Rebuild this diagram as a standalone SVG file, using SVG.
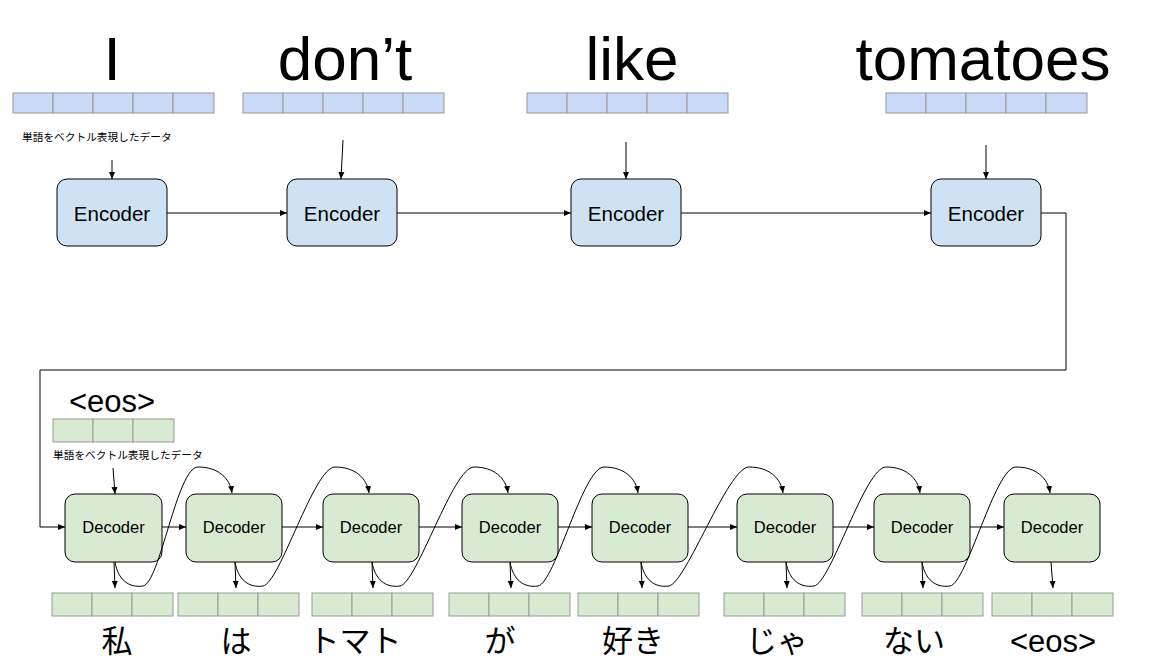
<svg xmlns="http://www.w3.org/2000/svg" width="1155" height="661" viewBox="0 0 1155 661">
<style>
.big{font-family:"Liberation Sans",Arial,sans-serif;font-size:62px;fill:#000;text-anchor:middle}
.jp{font-family:"Liberation Sans","Noto Sans CJK JP",sans-serif;font-size:31px;fill:#000;text-anchor:middle}
.lbl{font-family:"Noto Sans CJK JP",sans-serif;font-size:10.7px;fill:#000}
.enc rect{fill:#cfe2f3;stroke:#000;stroke-width:1}
.dec rect{fill:#d9ead3;stroke:#000;stroke-width:1}
.enc text{font-family:"Liberation Sans",Arial,sans-serif;font-size:20.5px;fill:#000;text-anchor:middle}
.dec text{font-family:"Liberation Sans",Arial,sans-serif;font-size:16.5px;fill:#000;text-anchor:middle}
.vb{fill:#c9daf8;stroke:#999;stroke-width:1}
.vg{fill:#d9ead3;stroke:#999;stroke-width:1}
.conn path,.conn line{fill:none;stroke:#000;stroke-width:1;marker-end:url(#ah)}
</style>
<defs>
<marker id="ah" markerUnits="userSpaceOnUse" markerWidth="8" markerHeight="8" viewBox="0 0 8 8" refX="7" refY="4" orient="auto">
<path d="M0,1 L7,4 L0,7 Z" fill="#000" stroke="none"/>
</marker>
<g id="v5"><rect x="0" y="0" width="40" height="20"/><rect x="40" y="0" width="40" height="20"/><rect x="80" y="0" width="40" height="20"/><rect x="120" y="0" width="40" height="20"/><rect x="160" y="0" width="41" height="20"/></g>
<g id="v3"><rect x="0" y="0" width="40" height="23"/><rect x="40" y="0" width="40" height="23"/><rect x="80" y="0" width="41" height="23"/></g>
</defs>

<!-- top words -->
<text class="big" x="112" y="80">I</text>
<text class="big" x="345" y="80">don’t</text>
<text class="big" x="632" y="80">like</text>
<text class="big" x="983" y="80">tomatoes</text>

<!-- input vectors -->
<g id="vec-in-1" class="vb"><use href="#v5" x="13" y="93"/></g>
<g id="vec-in-2" class="vb"><use href="#v5" x="243" y="93"/></g>
<g id="vec-in-3" class="vb"><use href="#v5" x="527" y="93"/></g>
<g id="vec-in-4" class="vb"><use href="#v5" x="886" y="93"/></g>

<text class="lbl" x="22" y="141">単語をベクトル表現したデータ</text>

<!-- encoders -->
<g id="enc1" class="enc"><rect x="57" y="179" width="110" height="67" rx="10"/><text x="112" y="221">Encoder</text></g>
<g id="enc2" class="enc"><rect x="287" y="179" width="110" height="67" rx="10"/><text x="342" y="221">Encoder</text></g>
<g id="enc3" class="enc"><rect x="571" y="179" width="110" height="67" rx="10"/><text x="626" y="221">Encoder</text></g>
<g id="enc4" class="enc"><rect x="931" y="179" width="110" height="67" rx="10"/><text x="986" y="221">Encoder</text></g>

<!-- decoder input -->
<text x="112" y="412" style="font-family:'Liberation Sans',Arial,sans-serif;font-size:31px;text-anchor:middle">&lt;eos&gt;</text>
<g id="vec-eos-in" class="vg"><use href="#v3" x="53" y="419"/></g>
<text class="lbl" x="53" y="459">単語をベクトル表現したデータ</text>

<!-- decoders -->
<g id="dec1" class="dec"><rect x="65" y="494" width="97" height="68" rx="10"/><text x="113.5" y="533">Decoder</text></g>
<g id="dec2" class="dec"><rect x="186" y="494" width="96" height="68" rx="10"/><text x="234" y="533">Decoder</text></g>
<g id="dec3" class="dec"><rect x="323" y="494" width="96" height="68" rx="10"/><text x="371" y="533">Decoder</text></g>
<g id="dec4" class="dec"><rect x="462" y="494" width="96" height="68" rx="10"/><text x="510" y="533">Decoder</text></g>
<g id="dec5" class="dec"><rect x="592" y="494" width="96" height="68" rx="10"/><text x="640" y="533">Decoder</text></g>
<g id="dec6" class="dec"><rect x="737" y="494" width="96" height="68" rx="10"/><text x="785" y="533">Decoder</text></g>
<g id="dec7" class="dec"><rect x="874" y="494" width="96" height="68" rx="10"/><text x="922" y="533">Decoder</text></g>
<g id="dec8" class="dec"><rect x="1004" y="494" width="96" height="68" rx="10"/><text x="1052" y="533">Decoder</text></g>

<!-- output vectors -->
<g id="vec-out-1" class="vg"><use href="#v3" x="52" y="593"/></g>
<g id="vec-out-2" class="vg"><use href="#v3" x="178" y="593"/></g>
<g id="vec-out-3" class="vg"><use href="#v3" x="312" y="593"/></g>
<g id="vec-out-4" class="vg"><use href="#v3" x="449" y="593"/></g>
<g id="vec-out-5" class="vg"><use href="#v3" x="578" y="593"/></g>
<g id="vec-out-6" class="vg"><use href="#v3" x="724" y="593"/></g>
<g id="vec-out-7" class="vg"><use href="#v3" x="862" y="593"/></g>
<g id="vec-out-8" class="vg"><use href="#v3" x="992" y="593"/></g>

<!-- output words -->
<text class="jp" x="117" y="652">私</text>
<text class="jp" x="236" y="652">は</text>
<text class="jp" x="355" y="652">トマト</text>
<text class="jp" x="500" y="652">が</text>
<text class="jp" x="633" y="652">好き</text>
<text class="jp" x="777" y="652">じゃ</text>
<text class="jp" x="914" y="652">ない</text>
<text class="jp" x="1053" y="652">&lt;eos&gt;</text>

<!-- connectors -->
<g id="connectors" class="conn">
<line x1="112" y1="160" x2="112" y2="179"/>
<line x1="343" y1="140" x2="341" y2="179"/>
<line x1="626" y1="142" x2="626" y2="179"/>
<line x1="986" y1="145" x2="986" y2="179"/>
<line x1="167" y1="213" x2="287" y2="213"/>
<line x1="397" y1="213" x2="571" y2="213"/>
<line x1="681" y1="213" x2="931" y2="213"/>
<path d="M1041,213 H1066 V370 H40 V527 H65"/>
<line x1="113" y1="468" x2="115" y2="494"/>
<line x1="162" y1="527" x2="186" y2="527"/>
<line x1="282" y1="527" x2="323" y2="527"/>
<line x1="419" y1="527" x2="462" y2="527"/>
<line x1="558" y1="527" x2="592" y2="527"/>
<line x1="688" y1="527" x2="737" y2="527"/>
<line x1="833" y1="527" x2="874" y2="527"/>
<line x1="970" y1="527" x2="1004" y2="527"/>
<line x1="114" y1="562" x2="115" y2="588"/>
<line x1="235" y1="562" x2="236" y2="588"/>
<line x1="372" y1="562" x2="373" y2="588"/>
<line x1="510" y1="562" x2="511" y2="588"/>
<line x1="641" y1="562" x2="642" y2="588"/>
<line x1="786" y1="562" x2="787" y2="588"/>
<line x1="922" y1="562" x2="923" y2="588"/>
<line x1="1051" y1="562" x2="1053" y2="588"/>
<path d="M115,562 C118,580 129,588 143,586 C160,583 177,467 198,467 C218,467 230,478 232,493"/>
<path d="M235,562 C238,580 249,588 263,586 C280,583 314,467 335,467 C355,467 367,478 369,493"/>
<path d="M372,562 C375,580 386,588 400,586 C417,583 453,467 474,467 C494,467 506,478 508,493"/>
<path d="M510,562 C513,580 524,588 538,586 C555,583 583,467 604,467 C624,467 636,478 638,493"/>
<path d="M641,562 C644,580 655,588 669,586 C686,583 728,467 749,467 C769,467 781,478 783,493"/>
<path d="M786,562 C789,580 800,588 814,586 C831,583 865,467 886,467 C906,467 918,478 920,493"/>
<path d="M922,562 C925,580 936,588 950,586 C967,583 995,467 1016,467 C1036,467 1048,478 1050,493"/>
</g>
</svg>
